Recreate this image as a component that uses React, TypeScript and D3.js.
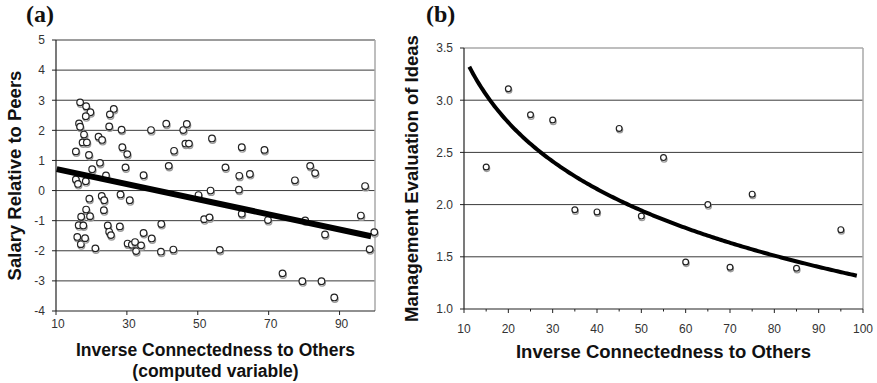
import React from 'react';
import * as d3 from 'd3';

// Panel (a): Salary relative to peers vs inverse connectedness
const salaryX = [
  16.8, 18.5, 19.7, 18.4, 26.3, 25.2, 16.5, 16.8, 17.9, 25.0,
  28.5, 17.5, 18.7, 22.0, 23.0, 15.6, 19.3, 28.7, 30.1, 22.4,
  20.2, 29.6, 24.1, 15.6, 16.2, 18.4, 36.8, 41.1, 45.9, 46.9,
  46.5, 47.5, 43.3, 54.0, 41.8, 34.7, 62.4, 68.8, 57.8, 61.7,
  64.7, 77.4, 81.7, 83.1, 97.2, 53.6, 61.6, 50.2, 22.9, 23.6,
  28.2, 30.8, 19.4, 18.5, 23.5, 17.1, 19.6, 51.8, 53.3, 62.4,
  69.8, 80.3, 96.0, 16.4, 17.7, 24.6, 28.0, 39.7, 16.0, 17.0,
  18.2, 25.0, 25.5, 21.1, 30.2, 31.4, 32.3, 32.6, 34.0, 34.7,
  37.0, 39.6, 43.1, 56.2, 73.9, 79.5, 84.9, 88.5, 85.9, 98.5,
  99.8,
];
const salaryY = [
  2.93, 2.80, 2.60, 2.47, 2.71, 2.53, 2.23, 2.12, 1.86, 2.13,
  2.02, 1.60, 1.60, 1.79, 1.68, 1.30, 1.18, 1.44, 1.21, 0.92,
  0.71, 0.77, 0.50, 0.37, 0.22, 0.31, 2.01, 2.22, 2.01, 2.21,
  1.56, 1.56, 1.32, 1.73, 0.82, 0.51, 1.44, 1.35, 0.77, 0.49,
  0.55, 0.34, 0.82, 0.58, 0.15, 0.0, 0.03, -0.15, -0.18, -0.32,
  -0.13, -0.32, -0.27, -0.63, -0.65, -0.87, -0.85, -0.95, -0.89, -0.77,
  -0.98, -0.99, -0.83, -1.15, -1.16, -1.16, -1.19, -1.11, -1.54, -1.78,
  -1.58, -1.37, -1.48, -1.92, -1.76, -1.80, -1.71, -2.01, -1.82, -1.41,
  -1.59, -2.03, -1.96, -1.97, -2.75, -3.01, -3.01, -3.55, -1.46, -1.95,
  -1.38,
];
const salaryYTicks = [5, 4, 3, 2, 1, 0, -1, -2, -3, -4];
const salaryXTicks = [10, 30, 50, 70, 90];
// linear trend: y = intercept + slope * x
const salaryTrend = { intercept: 0.966, slope: -0.0251, from: 10.2, to: 98.9 };

// Panel (b): Management evaluation of ideas
const ideasX = [15, 20, 25, 30, 35, 40, 45, 50, 55, 60, 65, 70, 75, 85, 95];
const ideasY = [2.36, 3.11, 2.86, 2.81, 1.95, 1.93, 2.73, 1.89, 2.45, 1.45, 2.0, 1.40, 2.10, 1.39, 1.76];
const ideasYTicks = [3.5, 3.0, 2.5, 2.0, 1.5, 1.0];
const ideasXTicks = [10, 20, 30, 40, 50, 60, 70, 80, 90, 100];
const ideasXMinor = [15, 25, 35, 45, 55, 65, 75, 85, 95];
// logarithmic trend: y = a + b * ln(x)
const ideasTrend = { a: 5.543, b: -0.92, from: 11.2, to: 98.6 };

const SANS = '"Liberation Sans", Arial, Helvetica, sans-serif';
const SERIF = '"Liberation Serif", "Times New Roman", serif';

function Marker({ cx, cy, r }: { cx: number; cy: number; r: number }) {
  return (
    <g>
      <circle cx={cx + 0.6} cy={cy + 1.6} r={r} fill="none" stroke="#9a9a9a" strokeWidth={1.3} />
      <circle cx={cx} cy={cy} r={r} fill="#fff" stroke="#222" strokeWidth={1.2} />
    </g>
  );
}

export default function App() {
  const ax = d3.scaleLinear().domain([10, 100]).range([56, 375]);
  const ay = d3.scaleLinear().domain([-4, 5]).range([311, 40]);
  const bx = d3.scaleLinear().domain([10, 100]).range([464, 863]);
  const by = d3.scaleLinear().domain([1, 3.5]).range([309, 48]);

  const aLine = d3
    .line<number>()
    .x((d) => ax(d))
    .y((d) => ay(salaryTrend.intercept + salaryTrend.slope * d));
  const aTrendPts = [salaryTrend.from, salaryTrend.to];

  const bLine = d3
    .line<number>()
    .x((d) => bx(d))
    .y((d) => by(ideasTrend.a + ideasTrend.b * Math.log(d)))
    .curve(d3.curveLinear);
  const bTrendPts = d3.range(0, 201).map((i) => ideasTrend.from + ((ideasTrend.to - ideasTrend.from) * i) / 200);

  const gridColor = '#3a3a3a';
  const borderColor = '#a8a8a8';

  return (
    <svg
      width={877}
      height={383}
      style={{ position: 'absolute', left: 0, top: 0, background: '#fff' }}
    >
      <rect x={0} y={0} width={877} height={383} fill="#fff" />

      {/* ---------- Panel (a) ---------- */}
      <text x={26} y={22} fontFamily={SERIF} fontWeight="bold" fontSize={24} fill="#111">
        (a)
      </text>
      {salaryYTicks
        .filter((t) => t !== -4)
        .map((t) => (
          <line key={'ag' + t} x1={ax(10)} x2={ax(100)} y1={ay(t)} y2={ay(t)} stroke={gridColor} strokeWidth={1} />
        ))}
      <line x1={ax(100)} x2={ax(100)} y1={ay(5)} y2={ay(-4)} stroke={borderColor} strokeWidth={1.5} />
      <line x1={ax(10)} x2={ax(10)} y1={ay(5)} y2={ay(-4)} stroke="#222" strokeWidth={1.2} />
      <line x1={ax(10)} x2={ax(100)} y1={ay(-4)} y2={ay(-4)} stroke="#222" strokeWidth={1.2} />
      {salaryYTicks.map((t) => (
        <g key={'ayt' + t}>
          <line x1={ax(10) - 4} x2={ax(10)} y1={ay(t)} y2={ay(t)} stroke="#222" strokeWidth={1} />
          <text
            x={45}
            y={ay(t)}
            dy="0.36em"
            textAnchor="end"
            fontFamily={SANS}
            fontSize={12}
            fill="#333"
          >
            {t}
          </text>
        </g>
      ))}
      {salaryXTicks.map((t) => (
        <g key={'axt' + t}>
          <line x1={ax(t)} x2={ax(t)} y1={ay(-4)} y2={ay(-4) + 4} stroke="#222" strokeWidth={1} />
          <text x={ax(t) + 2} y={328} textAnchor="middle" fontFamily={SANS} fontSize={12} fill="#333">
            {t}
          </text>
        </g>
      ))}
      {salaryX.map((x, i) => (
        <Marker key={'am' + i} cx={ax(x)} cy={ay(salaryY[i])} r={3.3} />
      ))}
      <path d={aLine(aTrendPts) || ''} stroke="#000" strokeWidth={6} fill="none" />
      <text x={215.5} y={356} textAnchor="middle" fontFamily={SANS} fontWeight="bold" fontSize={17.5} fill="#111">
        Inverse Connectedness to Others
      </text>
      <text x={215.5} y={377} textAnchor="middle" fontFamily={SANS} fontWeight="bold" fontSize={17.5} fill="#111">
        (computed variable)
      </text>
      <text
        transform={`translate(20.5,${(ay(5) + ay(-4)) / 2}) rotate(-90)`}
        textAnchor="middle"
        fontFamily={SANS}
        fontWeight="bold"
        fontSize={18.5}
        fill="#111"
      >
        Salary Relative to Peers
      </text>

      {/* ---------- Panel (b) ---------- */}
      <text x={426} y={22} fontFamily={SERIF} fontWeight="bold" fontSize={24} fill="#111">
        (b)
      </text>
      <line x1={bx(10)} x2={bx(100)} y1={by(3.5)} y2={by(3.5)} stroke={borderColor} strokeWidth={1.5} />
      {ideasYTicks
        .filter((t) => t !== 3.5 && t !== 1.0)
        .map((t) => (
          <line key={'bg' + t} x1={bx(10)} x2={bx(100)} y1={by(t)} y2={by(t)} stroke={gridColor} strokeWidth={1} />
        ))}
      <line x1={bx(100)} x2={bx(100)} y1={by(3.5)} y2={by(1)} stroke={borderColor} strokeWidth={1.5} />
      <line x1={bx(10)} x2={bx(10)} y1={by(3.5)} y2={by(1)} stroke="#222" strokeWidth={1.2} />
      <line x1={bx(10)} x2={bx(100)} y1={by(1)} y2={by(1)} stroke="#222" strokeWidth={1.2} />
      {ideasYTicks.map((t) => (
        <g key={'byt' + t}>
          <line x1={bx(10) - 4} x2={bx(10)} y1={by(t)} y2={by(t)} stroke="#222" strokeWidth={1} />
          <text
            x={453}
            y={by(t)}
            dy="0.36em"
            textAnchor="end"
            fontFamily={SANS}
            fontSize={12}
            fill="#333"
          >
            {t.toFixed(1)}
          </text>
        </g>
      ))}
      {ideasXTicks.map((t) => (
        <g key={'bxt' + t}>
          <line x1={bx(t)} x2={bx(t)} y1={by(1)} y2={by(1) + 4} stroke="#222" strokeWidth={1} />
          <text x={bx(t)} y={333} textAnchor="middle" fontFamily={SANS} fontSize={12} fill="#333">
            {t}
          </text>
        </g>
      ))}
      {ideasXMinor.map((t) => (
        <line key={'bxm' + t} x1={bx(t)} x2={bx(t)} y1={by(1)} y2={by(1) + 2.5} stroke="#222" strokeWidth={1} />
      ))}
      {ideasX.map((x, i) => (
        <Marker key={'bm' + i} cx={bx(x)} cy={by(ideasY[i])} r={2.9} />
      ))}
      <path d={bLine(bTrendPts) || ''} stroke="#000" strokeWidth={4} fill="none" />
      <text x={663.5} y={358} textAnchor="middle" fontFamily={SANS} fontWeight="bold" fontSize={18.5} fill="#111">
        Inverse Connectedness to Others
      </text>
      <text
        transform={`translate(418,${(by(3.5) + by(1)) / 2}) rotate(-90)`}
        textAnchor="middle"
        fontFamily={SANS}
        fontWeight="bold"
        fontSize={18.5}
        fill="#111"
      >
        Management Evaluation of Ideas
      </text>
    </svg>
  );
}
